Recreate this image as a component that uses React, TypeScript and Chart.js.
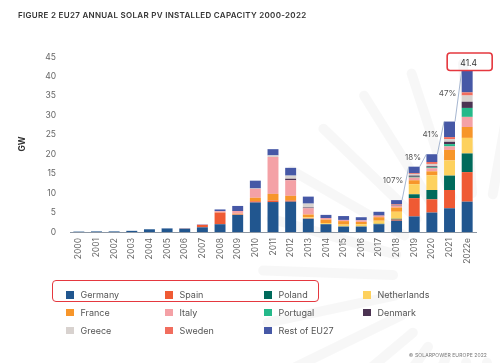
import React, { useEffect, useRef } from "react";
import { Chart, registerables } from "chart.js";

Chart.register(...registerables);

const years = ["2000","2001","2002","2003","2004","2005","2006","2007","2008","2009","2010","2011","2012","2013","2014","2015","2016","2017","2018","2019","2020","2021","2022e"];

const germany     = [0.1,0.15,0.15,0.3,0.7,0.9,0.85,1.2,2.0,4.4,7.6,7.7,7.8,3.4,2.0,1.4,1.4,2.0,2.9,4.0,5.0,6.1,7.8];
const spain       = [0,0,0,0,0,0,0.05,0.6,3.0,0.1,0.3,0.4,0.3,0.1,0,0,0,0,0.3,4.7,3.4,4.7,7.6];
const poland      = [0,0,0,0,0,0,0,0,0,0,0,0,0,0,0,0,0,0.1,0.2,1.0,2.4,3.7,4.8];
const netherlands = [0,0,0,0,0,0,0,0,0,0,0,0,0,0.3,0.3,0.5,0.6,0.8,1.8,2.6,3.8,3.9,4.0];
const france      = [0,0,0,0,0,0,0,0,0.05,0.2,0.9,1.7,1.2,0.7,0.9,0.9,0.6,0.9,1.1,1.0,1.0,2.7,2.8];
const italy       = [0,0,0,0,0,0,0,0.1,0.3,0.7,2.3,9.5,4.0,1.6,0.4,0.3,0.4,0.4,0.4,0.7,0.8,0.9,2.6];
const portugal    = [0,0,0,0,0,0,0,0,0,0,0,0,0,0,0,0,0,0,0,0.2,0.2,0.6,2.3];
const denmark     = [0,0,0,0,0,0,0,0,0,0,0,0,0.4,0.2,0,0,0,0.1,0.1,0.3,0.3,0.6,1.6];
const greece      = [0,0,0,0,0,0,0,0,0,0,0.1,0.4,0.8,1.0,0,0,0,0,0.1,0.4,0.6,0.7,1.6];
const sweden      = [0,0,0,0,0,0,0,0,0,0,0,0,0,0,0,0,0,0,0.2,0.2,0.5,0.5,0.8];
const restOfEU27  = [0,0,0,0,0,0.05,0.05,0.1,0.45,1.3,2.0,1.6,2.0,1.8,0.8,1.0,0.8,0.9,1.1,1.7,2.0,4.0,5.5];

const yTicks = [0,5,10,15,20,25,30,35,40,45];
const growthLabels = ["107%","18%","41%","47%"];
const growthStartIndex = 18;
const totalLabel = "41.4";

const seriesNames = ["Germany","Spain","Poland","Netherlands","France","Italy","Portugal","Denmark","Greece","Sweden","Rest of EU27"];
const seriesData = [germany,spain,poland,netherlands,france,italy,portugal,denmark,greece,sweden,restOfEU27];
const seriesColors = ["#21568f","#ef5a34","#006a5b","#fdd15e","#f7962a","#f4a1a6","#25b98a","#4b3352","#d8d2cf","#f16d5e","#4658a6"];

const FONT = "Inter, 'Noto Sans', sans-serif";

const raysPlugin = {
  id: "rays",
  beforeDraw(chart: any) {
    const ctx = chart.ctx;
    ctx.save();
    ctx.strokeStyle = "rgba(0,0,0,0.03)";
    ctx.lineWidth = 10;
    ctx.lineCap = "round";
    const cx = 478, cy = 278;
    for (let a = 0; a < 360; a += 14) {
      const r = (a * Math.PI) / 180;
      ctx.beginPath();
      ctx.moveTo(cx + Math.cos(r) * 85, cy + Math.sin(r) * 85);
      ctx.lineTo(cx + Math.cos(r) * 215, cy + Math.sin(r) * 215);
      ctx.stroke();
    }
    ctx.restore();
  },
};

const growthPlugin = {
  id: "growth",
  afterDatasetsDraw(chart: any) {
    const ctx = chart.ctx;
    const ys = chart.scales.y;
    const meta = chart.getDatasetMeta(0);
    const totals = years.map((_, i) => seriesData.reduce((s, arr) => s + arr[i], 0));
    ctx.save();
    ctx.strokeStyle = "#8fa3c4";
    ctx.lineWidth = 0.8;
    ctx.font = `8px ${FONT}`;
    ctx.fillStyle = "#555";
    ctx.textAlign = "right";
    ctx.textBaseline = "middle";
    for (let k = 0; k < growthLabels.length; k++) {
      const i = growthStartIndex + k;
      const a = meta.data[i], b = meta.data[i + 1];
      const x1 = a.x + a.width / 2, y1 = ys.getPixelForValue(totals[i]);
      const x2 = b.x - b.width / 2, y2 = ys.getPixelForValue(totals[i + 1]);
      ctx.beginPath();
      ctx.moveTo(x1, y1);
      ctx.lineTo(x2, y2);
      ctx.stroke();
      ctx.fillText(growthLabels[k], (x1 + x2) / 2 - 2, (y1 + y2) / 2 - 3);
    }
    const last = meta.data[years.length - 1];
    const top = ys.getPixelForValue(totals[years.length - 1]);
    const bx = last.x - 20, by = top - 18, bw = 45, bh = 17.5;
    ctx.strokeStyle = "#e5383f";
    ctx.lineWidth = 1.6;
    ctx.beginPath();
    (ctx as any).roundRect(bx, by, bw, bh, 3);
    ctx.stroke();
    ctx.fillStyle = "#333";
    ctx.textAlign = "center";
    ctx.font = `8.5px ${FONT}`;
    ctx.fillText(totalLabel, last.x + 1.5, top - 7.5);
    ctx.restore();
  },
};

function ChartCanvas() {
  const ref = useRef<HTMLCanvasElement | null>(null);
  useEffect(() => {
    if (!ref.current) return;
    const chart = new Chart(ref.current, {
      type: "bar",
      data: {
        labels: years,
        datasets: seriesNames.map((name, i) => ({
          label: name,
          data: seriesData[i],
          backgroundColor: seriesColors[i],
          borderWidth: 0,
          categoryPercentage: 1,
          barPercentage: 0.62,
        })),
      },
      options: {
        animation: false,
        responsive: true,
        maintainAspectRatio: false,
        layout: { padding: { left: 0, right: 24, top: 57, bottom: 0 } },
        plugins: { legend: { display: false }, tooltip: { enabled: false }, title: { display: false } },
        scales: {
          x: {
            stacked: true,
            grid: { display: false, drawTicks: false },
            border: { display: true, color: "#8d97a3", width: 1 },
            ticks: {
              color: "#666",
              font: { family: FONT, size: 8.5 },
              minRotation: 90,
              maxRotation: 90,
              padding: 6,
              autoSkip: false,
            },
            afterFit: (s: any) => { s.height = 131; },
          },
          y: {
            stacked: true,
            min: 0,
            max: 45,
            grid: { display: false, drawTicks: false },
            border: { display: false },
            afterBuildTicks: (s: any) => { s.ticks = yTicks.map((v) => ({ value: v })); },
            ticks: { color: "#666", font: { family: FONT, size: 8.5 }, padding: 14 },
            afterFit: (s: any) => { s.width = 70; },
          },
        },
      },
      plugins: [raysPlugin, growthPlugin],
    });
    return () => chart.destroy();
  }, []);
  return <canvas ref={ref} />;
}

export default function App() {
  return (
    <div style={{ position: "fixed", left: 0, top: 0, width: 500, height: 363, background: "#fff", overflow: "hidden", fontFamily: FONT }}>
      <div style={{ position: "absolute", left: 0, top: 0, width: 500, height: 363 }}>
        <ChartCanvas />
      </div>
      <div style={{ position: "absolute", left: 18, top: 9, fontSize: 8, fontWeight: 600, letterSpacing: 0.3, color: "#333", lineHeight: "12px", whiteSpace: "nowrap" }}>
        FIGURE 2 EU27 ANNUAL SOLAR PV INSTALLED CAPACITY 2000-2022
      </div>
      <div style={{ position: "absolute", left: 12, top: 139, width: 20, textAlign: "center", fontSize: 8.5, fontWeight: 700, color: "#333", lineHeight: "10px", transform: "rotate(-90deg)" }}>
        GW
      </div>
      <div style={{ position: "absolute", left: 52, top: 280, width: 267, height: 22, border: "1.6px solid #e5383f", borderRadius: 4, boxSizing: "border-box" }} />
      <div style={{ position: "absolute", left: 66, top: 286, display: "grid", gridTemplateColumns: "99px 99px 99px 99px", gridAutoRows: "17.8px" }}>
        {seriesNames.map((name, i) => (
          <div key={name} style={{ display: "flex", alignItems: "center", fontSize: 9, color: "#555", whiteSpace: "nowrap" }}>
            <span style={{ display: "inline-block", width: 7.5, height: 7.5, background: seriesColors[i], marginRight: 7, flex: "none" }} />
            {name}
          </div>
        ))}
      </div>
      <div style={{ position: "absolute", right: 13, top: 352, fontSize: 5, color: "#777", letterSpacing: 0.1, whiteSpace: "nowrap" }}>
        © SOLARPOWER EUROPE 2022
      </div>
    </div>
  );
}
